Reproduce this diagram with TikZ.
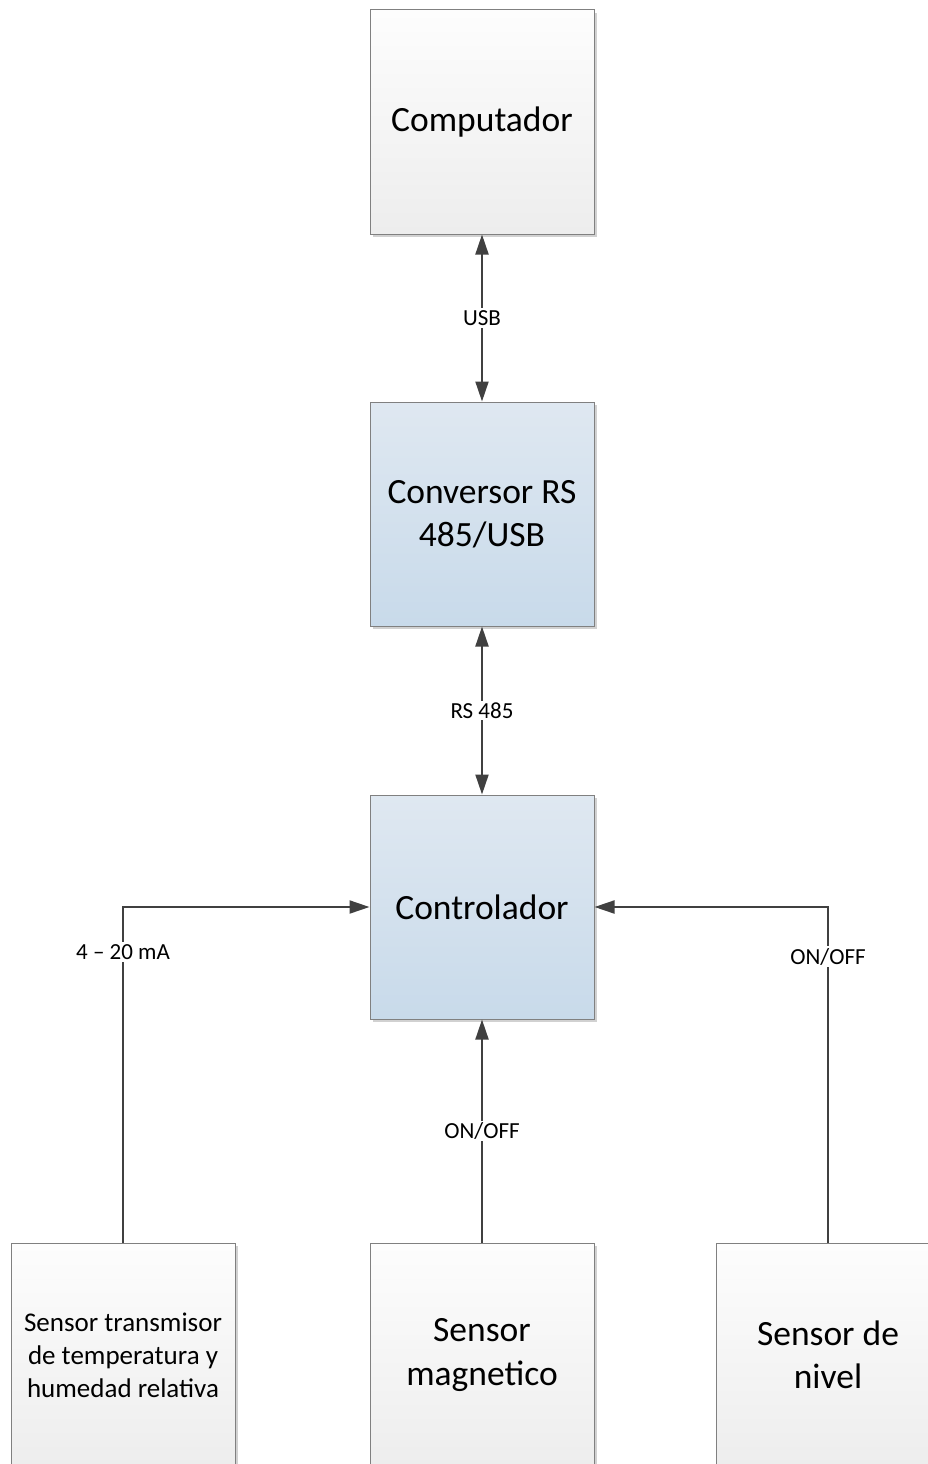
\documentclass[tikz,border=0pt]{standalone}
\usepackage{fontspec}
\setmainfont{Carlito}
\usetikzlibrary{arrows.meta,shadows}
\definecolor{linec}{HTML}{404040}
\definecolor{boxline}{HTML}{808080}
\definecolor{greytop}{HTML}{FDFDFD}
\definecolor{greybot}{HTML}{EDEDED}
\definecolor{bluetop}{HTML}{DFE8F1}
\definecolor{bluebot}{HTML}{C8DAEA}
\tikzset{
  blockbase/.style={draw=boxline, line width=1pt, minimum width=224pt, minimum height=224pt,
    align=center, inner sep=0pt,
    drop shadow={shadow xshift=3pt, shadow yshift=-3pt, opacity=0.18, fill=black}},
  greybox/.style={blockbase, top color=greytop, bottom color=greybot},
  bluebox/.style={blockbase, top color=bluetop, bottom color=bluebot},
  bigtext/.style={font=\fontsize{35.5}{43.5}\selectfont},
  smalltext/.style={font=\fontsize{27}{33}\selectfont},
  conn/.style={draw=linec, line width=2pt, >={Triangle[length=20pt,width=13pt]}},
  lbl/.style={fill=white, inner sep=2pt, font=\fontsize{23}{27}\selectfont, text=black}
}
\begin{document}
\begin{tikzpicture}[x=1pt,y=-1pt]
\useasboundingbox (0,0) rectangle (928,1464);
\clip (0,0) rectangle (928,1464);
\fill[white] (0,0) rectangle (928,1464);

\node[greybox, bigtext] (comp) at (482,122) {Computador};
\node[bluebox, bigtext] (conv) at (482,514) {Conversor RS\\485/USB};
\node[bluebox, bigtext] (ctrl) at (482,907) {Controlador};

\node[greybox, smalltext] (s1) at (123,1355) {Sensor transmisor\\de temperatura y\\humedad relativa};
\node[greybox, bigtext] (s2) at (482,1355) {Sensor\\magnetico};
\node[greybox, bigtext] (s3) at (828,1355) {Sensor de\\nivel};

\draw[conn,<->] (comp.south) -- node[lbl]{USB} (conv.north);
\draw[conn,<->] (conv.south) -- node[lbl]{RS 485} (ctrl.north);

\draw[conn,->] (s1.north) |- node[lbl, pos=0.433]{4 -- 20 mA} (ctrl.west);
\draw[conn,->] (s2.north) -- node[lbl]{ON/OFF} (ctrl.south);
\draw[conn,->] (s3.north) |- node[lbl, pos=0.426]{ON/OFF} (ctrl.east);
\end{tikzpicture}
\end{document}
